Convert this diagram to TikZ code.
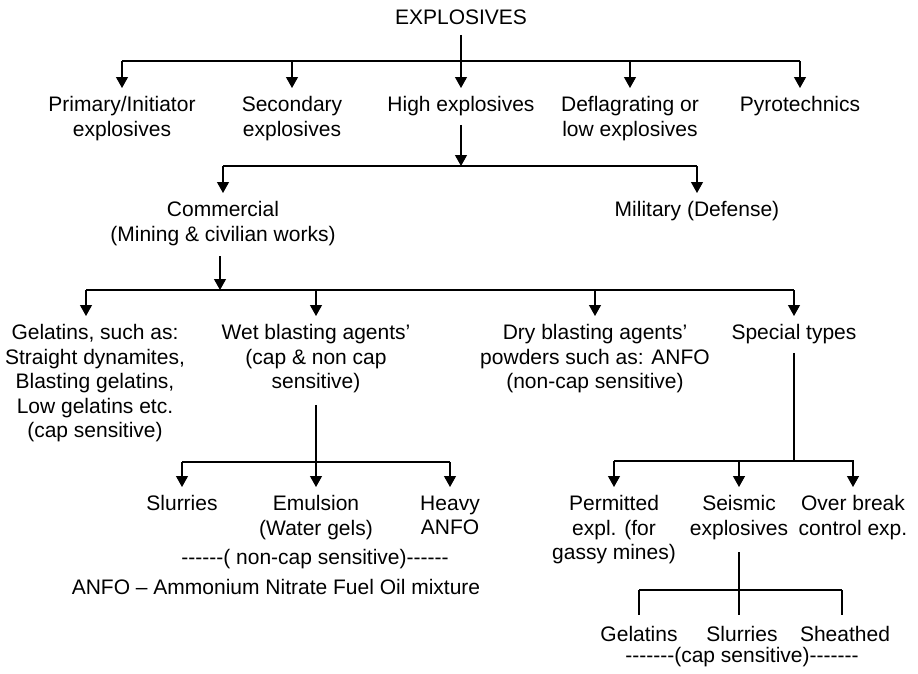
\documentclass[tikz,border=0pt]{standalone}
\usepackage{fontspec}
\setmainfont{Liberation Sans}[Ligatures=TeXOff]
\usetikzlibrary{arrows.meta}
\begin{document}
\begin{tikzpicture}[x=1pt,y=-1pt, line width=1.2pt,
  arr/.style={-{Triangle[width=12pt,length=11pt]}},
  lbl/.style={font=\fontsize{21}{24.5}\selectfont, align=center, inner xsep=0pt, inner ysep=8pt, anchor=north},
  sublbl/.style={lbl, inner ysep=11pt},
  txt/.style={font=\fontsize{21}{24.5}\selectfont, inner sep=0pt, anchor=base}]
\useasboundingbox (0,0) rectangle (918,673);

% level 0
\node[txt] (root) at (461,24) {EXPLOSIVES};
\coordinate (b1l) at (122,61);
\coordinate (b1r) at (800,61);

% level 1
\node[lbl] (prim) at (122,88) {Primary/Initiator\\explosives};
\node[lbl] (sec)  at (292,88) {Secondary\\explosives};
\node[lbl] (high) at (461,88) {High explosives};
\node[lbl] (defl) at (630,88) {Deflagrating or\\low explosives};
\node[lbl] (pyro) at (800,88) {Pyrotechnics};

\draw (b1l) -- (b1r);
\draw[arr] ([yshift=-10pt]root.south) -- (high.north);
\draw[arr] (b1l) -- (prim.north);
\draw[arr] (sec.north |- b1l) -- (sec.north);
\draw[arr] (defl.north |- b1l) -- (defl.north);
\draw[arr] (b1r) -- (pyro.north);

% level 2
\coordinate (b2c) at (461,166);
\coordinate (b2l) at (223,166);
\coordinate (b2r) at (697,166);
\node[lbl] (comm) at (223,193) {Commercial\\(Mining \& civilian works)};
\node[lbl] (mil)  at (697,193) {Military (Defense)};

\draw[arr] (high.south) -- (b2c);
\draw (b2l) -- (b2r);
\draw[arr] (b2l) -- (comm.north);
\draw[arr] (b2r) -- (mil.north);

% level 3
\coordinate (b3l) at (86,290);
\coordinate (b3r) at (794,290);
\coordinate (b3c) at (220,290);
\node[lbl] (gel)  at (95,316) {Gelatins, such as:\\Straight dynamites,\\Blasting gelatins,\\Low gelatins etc.\\(cap sensitive)};
\node[lbl] (wet)  at (316,316) {Wet blasting agents’\\(cap \& non cap\\sensitive)};
\node[lbl] (dry)  at (595,316) {Dry blasting agents’\\powders such as: ANFO\\(non-cap sensitive)};
\node[lbl] (spec) at (794,316) {Special types};

\draw[arr] ([yshift=-2pt]comm.south -| b3c) -- (b3c);
\draw (b3l) -- (b3r);
\draw[arr] (b3l) -- (b3l |- gel.north);
\draw[arr] (wet.north |- b3l) -- (wet.north);
\draw[arr] (dry.north |- b3l) -- (dry.north);
\draw[arr] (b3r) -- (spec.north);

% level 4 (wet)
\coordinate (b4l) at (182,462);
\coordinate (b4r) at (450,462);
\node[lbl] (slur)  at (182,487) {Slurries};
\node[lbl] (emul)  at (316,487) {Emulsion\\(Water gels)};
\node[lbl] (heavy) at (450,487) {Heavy\\ANFO};
\node[txt] (noncap) at (315,564) {------( non-cap sensitive)------};
\node[txt] (anfo) at (276,594) {ANFO – Ammonium Nitrate Fuel Oil mixture};

\draw[arr] ([yshift=-3pt]wet.south) -- (emul.north);
\draw (b4l) -- (b4r);
\draw[arr] (b4l) -- (slur.north);
\draw[arr] (b4r) -- (heavy.north);

% level 4 (special)
\coordinate (b5l) at (614,461);
\coordinate (b5r) at (854,461);
\coordinate (b5s) at (794,461);
\node[lbl] (perm) at (614,487) {Permitted\\expl. (for\\gassy mines)};
\node[lbl] (seis) at (739,487) {Seismic\\explosives};
\node[lbl] (over) at (853,487) {Over break\\control exp.};

\draw (spec.south) -- (b5s);
\draw (b5l) -- (b5r);
\draw[arr] (b5l) -- (perm.north);
\draw[arr] (seis.north |- b5l) -- (seis.north);
\draw[arr] (b5r) -- (b5r -| over.north) -- (over.north);

% level 5 (seismic)
\coordinate (b6l) at (639,590);
\coordinate (b6r) at (842,590);
\node[sublbl] (sgel) at (639,615) {Gelatins};
\node[sublbl] (sslu) at (742,615) {Slurries};
\node[sublbl] (ssht) at (845,615) {Sheathed};
\node[txt] (capsens) at (742,662) {-------(cap sensitive)-------};

\draw ([yshift=-4pt]seis.south) -- (seis.south |- sslu.north);
\draw (b6l) -- (b6r);
\draw (b6l) -- (sgel.north);
\draw (b6r) -- (b6r |- ssht.north);
\end{tikzpicture}
\end{document}
